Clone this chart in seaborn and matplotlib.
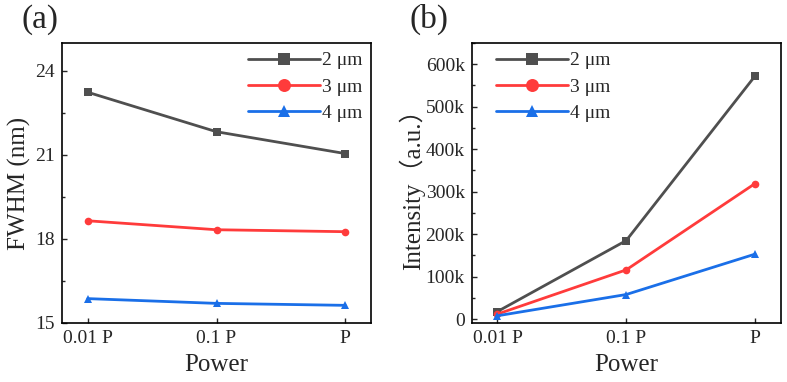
import numpy as np
import pandas as pd
import matplotlib
matplotlib.use('Agg')
import matplotlib.pyplot as plt
import seaborn as sns
from matplotlib.ticker import MultipleLocator, FuncFormatter

# Dados
potencias = ['0.01 P', '0.1 P', 'P']
tamanhos = ['2 μm', '3 μm', '4 μm']
fwhm_2um = [23.24, 21.83, 21.05]
fwhm_3um = [18.65, 18.33, 18.26]
fwhm_4um = [15.87, 15.70, 15.63]
int_2um = [18000, 185000, 572000]
int_3um = [12000, 116000, 319000]
int_4um = [8000, 58000, 153000]

cores = ['#4f4f4f', '#ff3b3b', '#1a6fe8']
marcadores = ['s', 'o', '^']

linhas = []
for t, f, i in zip(tamanhos, [fwhm_2um, fwhm_3um, fwhm_4um], [int_2um, int_3um, int_4um]):
    for k, p in enumerate(potencias):
        linhas.append({'tamanho': t, 'pos': k, 'fwhm': f[k], 'intensidade': i[k]})
df = pd.DataFrame(linhas)

sns.set_style('ticks')
plt.rcParams['font.family'] = ['Liberation Serif', 'Noto Sans CJK SC']

fig = plt.figure(figsize=(7.87, 3.82), dpi=100)
ax1 = fig.add_axes([0.0788, 0.1545, 0.3926, 0.733])
ax2 = fig.add_axes([0.5994, 0.1545, 0.3926, 0.733])

paleta = dict(zip(tamanhos, cores))
marc = dict(zip(tamanhos, marcadores))

for ax, col in [(ax1, 'fwhm'), (ax2, 'intensidade')]:
    sns.lineplot(data=df, x='pos', y=col, hue='tamanho', style='tamanho',
                 palette=paleta, markers=marc, dashes=False, ax=ax,
                 linewidth=2.0, markersize=5.5, markeredgewidth=0)
    ax.set_xlim(-0.2, 2.2)
    ax.set_xticks(range(len(potencias)))
    ax.set_xticklabels(potencias)
    ax.set_xlabel('Power', fontsize=18, labelpad=5)
    ax.tick_params(axis='both', which='major', direction='in', length=3.6, width=1,
                   labelsize=14, top=False, right=False, pad=5)
    ax.tick_params(axis='y', which='minor', direction='in', length=2.2, width=1)
    for s in ax.spines.values():
        s.set_linewidth(1.2)
        s.set_color('black')

ax1.set_ylim(15, 25)
ax1.yaxis.set_major_locator(MultipleLocator(3))
ax1.yaxis.set_minor_locator(MultipleLocator(1.5))
ax1.set_ylabel('FWHM (nm)', fontsize=18, labelpad=3)
ax1.legend(frameon=False, fontsize=14, handlelength=3.7, markerscale=1.7,
           labelspacing=0.45, handletextpad=0.1, loc='upper right',
           borderaxespad=0.05)

ax2.set_ylim(-9000, 650000)
ax2.yaxis.set_major_locator(MultipleLocator(100000))
ax2.yaxis.set_minor_locator(MultipleLocator(50000))
ax2.yaxis.set_major_formatter(FuncFormatter(lambda v, p: '0' if v == 0 else f'{int(v/1000)}k'))
ax2.set_ylabel('Intensity（a.u.）', fontsize=18, labelpad=0)
ax2.legend(frameon=False, fontsize=14, handlelength=3.7, markerscale=1.7,
           labelspacing=0.45, handletextpad=0.1, loc='upper left',
           bbox_to_anchor=(0.05, 1.0), borderaxespad=0.05)

fig.text(0.027, 0.948, '(a)', fontsize=24, va='center')
fig.text(0.52, 0.948, '(b)', fontsize=24, va='center')

plt.savefig('out.png', dpi=100)
